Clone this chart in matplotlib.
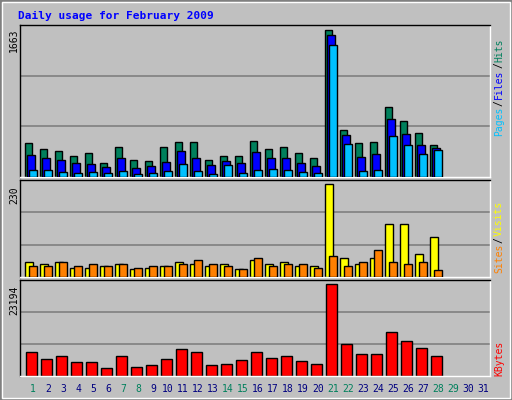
import matplotlib
matplotlib.use("Agg")
import matplotlib.pyplot as plt
from matplotlib.patches import Rectangle

days = list(range(1, 32))
hits = [387, 320, 297, 241, 275, 162, 342, 196, 184, 342, 399, 399, 196, 241, 241, 410, 320, 342, 275, 218, 1663, 534, 387, 399, 794, 636, 500, 365]
files = [252, 218, 196, 162, 150, 117, 218, 105, 128, 173, 297, 218, 139, 184, 162, 286, 218, 218, 162, 128, 1606, 478, 229, 263, 658, 489, 365, 331]
pages = [83, 83, 60, 49, 60, 49, 71, 38, 49, 71, 150, 71, 38, 139, 49, 83, 94, 83, 60, 49, 1494, 376, 71, 83, 466, 365, 263, 308]
visits = [38, 31, 38, 23, 23, 28, 33, 21, 23, 26, 38, 33, 26, 31, 21, 43, 31, 36, 28, 28, 230, 48, 31, 46, 130, 130, 56, 98]
sites = [28, 26, 36, 26, 31, 28, 33, 23, 28, 26, 31, 41, 31, 26, 21, 46, 28, 33, 31, 23, 53, 26, 36, 68, 36, 33, 36, 18]
kbytes = [5925, 4402, 5164, 3640, 3640, 2116, 5164, 2370, 2878, 4402, 6687, 5925, 2878, 3132, 4148, 5925, 4656, 5164, 3894, 3132, 23194, 7957, 5672, 5672, 11005, 8719, 6941, 5164]
weekend = [1, 7, 8, 14, 15, 21, 22, 28, 29]

W, H = 512, 400
fig = plt.figure(figsize=(W/100, H/100), dpi=100)
fig.patch.set_facecolor('#c0c0c0')
fig.add_artist(Rectangle((0, 0), 1, 1, transform=fig.transFigure, fill=False, ec='#808080', lw=2))
fig.add_artist(Rectangle((2/W, 2/H), 1-4/W, 1-4/H, transform=fig.transFigure, fill=False, ec='white', lw=1))

def mkax(top, bottom):
    ax = fig.add_axes([20/W, 1-bottom/H, 470/W, (bottom-top)/H])
    ax.set_facecolor('#c0c0c0')
    ax.set_xlim(0, 470/15)
    for s in ax.spines.values():
        s.set_color('black'); s.set_linewidth(1)
    ax.spines['right'].set_color('white'); ax.spines['bottom'].set_color('white')
    ax.set_xticks([]); ax.set_yticks([])
    return ax

def grid(ax, top):
    ax.set_ylim(0, top)
    for f in (1/3, 2/3):
        ax.axhline(top*f, color='#808080', lw=1.2, zorder=0)

mono = 'DejaVu Sans Mono'
fig.text(18/W, 1-16/H, 'Daily usage for February 2009', color='#0000ff', fontsize=8,
         fontweight='bold', family=mono, va='center', ha='left')

x = [d-1 for d in days[:len(hits)]]
ax1 = mkax(25, 177)
grid(ax1, 1663*152/147)
ax1.bar([v+0.33 for v in x], hits, 0.5, align='edge', color='#00805c', ec='black', lw=1, zorder=2)
ax1.bar([v+0.48 for v in x], files, 0.5, align='edge', color='#0000ff', ec='black', lw=1, zorder=3)
ax1.bar([v+0.62 for v in x], pages, 0.5, align='edge', color='#00c0ff', ec='black', lw=1, zorder=4)

ax2 = mkax(180, 277)
grid(ax2, 230*97/93)
ax2.bar([v+0.33 for v in x], visits, 0.55, align='edge', color='#ffff00', ec='black', lw=1, zorder=2)
ax2.bar([v+0.62 for v in x], sites, 0.5, align='edge', color='#ff8000', ec='black', lw=1, zorder=3)

ax3 = mkax(280, 376)
grid(ax3, 23194*96/92)
ax3.bar([v+0.4 for v in x], kbytes, 0.7, align='edge', color='#ff0000', ec='black', lw=1, zorder=2)

for txt, yc in (('1663', 40), ('230', 195), ('23194', 300)):
    fig.text(14/W, 1-yc/H, txt, rotation=90, fontsize=7, family=mono, ha='center', va='center')

renderer = fig.canvas.get_renderer()
def rlabel(parts, ybottom):
    y = ybottom
    for t, c in parts:
        tt = fig.text(499/W, 1-y/H, t, rotation=90, fontsize=7, family=mono, color=c,
                      ha='center', va='bottom')
        bb = tt.get_window_extent(renderer)
        y -= bb.height + 1
rlabel([('Pages', '#00c0ff'), ('/', 'black'), ('Files', '#0000ff'), ('/', 'black'), ('Hits', '#00805c')], 136)
rlabel([('Sites', '#ff8000'), ('/', 'black'), ('Visits', '#ffff00')], 273)
rlabel([('KBytes', '#ff0000')], 376)

for d in days:
    fig.text((20 + (d-1)*15 + 13)/W, 1-389/H, str(d), fontsize=7, family=mono,
             color='#00805c' if d in weekend else '#000080', ha='center', va='center')

fig.savefig('out.png', dpi=100, facecolor=fig.get_facecolor())
